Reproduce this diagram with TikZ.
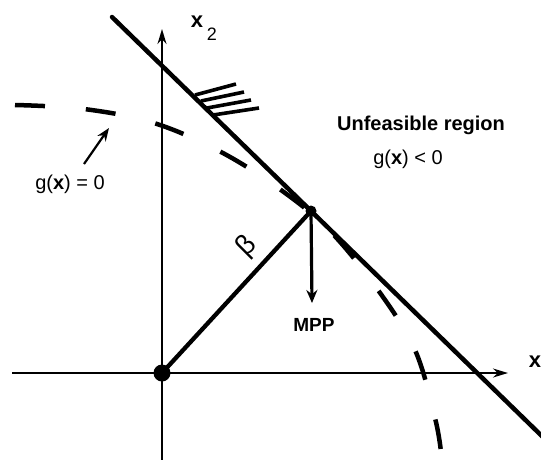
\documentclass[tikz,border=0pt]{standalone}
\usepackage{fontspec}
\setmainfont{Liberation Sans}
\usetikzlibrary{arrows.meta}
\begin{document}
\begin{tikzpicture}[x=1pt,y=-1pt,
  axisline/.style={line width=1.9pt,-{Stealth[length=15pt,width=9pt]}},
  boundary/.style={line width=4.5pt,line cap=round},
  dashcurve/.style={line width=4.5pt,dash pattern=on 30pt off 41pt},
  hatchline/.style={line width=3.6pt},
  dotnode/.style={circle,fill=black,inner sep=0pt},
  lbl/.style={inner sep=1pt,font=\fontsize{20}{24}\selectfont}]
\useasboundingbox (0,0) rectangle (541,459);
% axes
\coordinate (xl) at (12,373);
\coordinate (xr) at (508,373);
\coordinate (yb) at (162,462);
\coordinate (yt) at (162,29);
\draw[axisline] (xl) -- (xr);
\draw[axisline] (yb) -- (yt);
% limit state g(x)=0 (dashed curve)
\draw[dashcurve] plot[smooth,tension=0.6] coordinates {
  (15,105) (84,109) (154,123) (221,152) (281,190) (330,231)
  (378,290) (415,350) (435,418) (441,452)};
% linearised boundary
\coordinate (L1) at (112,17);
\coordinate (L2) at (548,442);
\draw[boundary] (L1) -- (L2);
% hatching
\coordinate (h1a) at (195,95);  \coordinate (h1b) at (236,84);
\coordinate (h2a) at (201,101); \coordinate (h2b) at (244,92);
\coordinate (h3a) at (207,108); \coordinate (h3b) at (251,100);
\coordinate (h4a) at (213,115); \coordinate (h4b) at (259,108);
\draw[hatchline] (h1a) -- (h1b);
\draw[hatchline] (h2a) -- (h2b);
\draw[hatchline] (h3a) -- (h3b);
\draw[hatchline] (h4a) -- (h4b);
% points
\node[dotnode,minimum size=17pt] (O) at (162,373) {};
\node[dotnode,minimum size=11pt] (M) at (311,211) {};
\draw[line width=4.3pt] (O.center) -- (M.center);
\coordinate (Mtip) at (312,303);
\draw[line width=3.2pt,-{Stealth[length=13pt,width=11pt]}] (M.center) -- (Mtip);
% g(x)=0 pointer
\coordinate (gtail) at (84,164);
\coordinate (gtip) at (109,128);
\draw[line width=2.2pt,-{Stealth[length=13pt,width=10pt]}] (gtail) -- (gtip);
% labels
\node[lbl] (unf) at (421,125) {\bfseries Unfeasible region};
\node[lbl] (glt) at (408,159) {g(\textbf{x}) < 0};
\node[lbl] (geq) at (70,184) {g(\textbf{x}) = 0};
\node[lbl,font=\fontsize{19}{22}\selectfont] (mpp) at (314,325) {\bfseries MPP};
\node[lbl,rotate=45,font=\fontsize{28}{28}\selectfont] (beta) at (247,247) {β};
\node[lbl,font=\fontsize{22}{24}\selectfont] (x2x) at (197,22) {\textbf{x}};
\node[lbl,font=\fontsize{18}{20}\selectfont] (x2s) at (212,34) {2};
\node[lbl,font=\fontsize{22}{24}\selectfont] (x1) at (535,362) {\textbf{x}};
\end{tikzpicture}
\end{document}
